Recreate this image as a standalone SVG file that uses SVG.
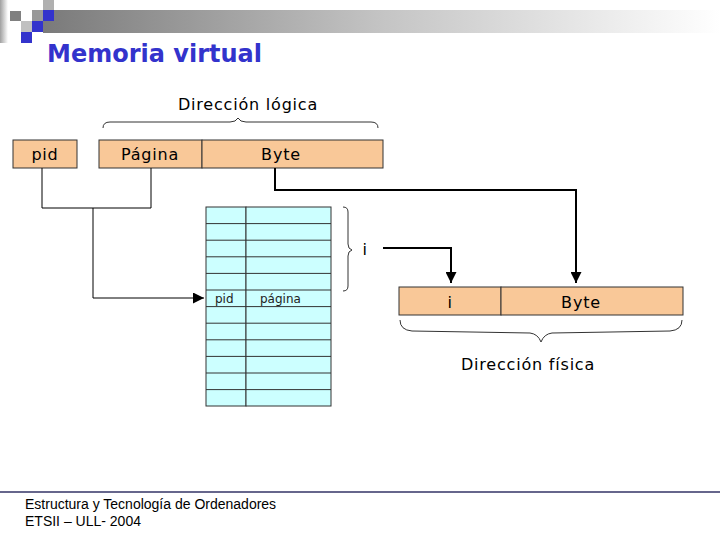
<svg xmlns="http://www.w3.org/2000/svg" width="720" height="540" viewBox="0 0 720 540">
<defs>
<linearGradient id="bar" x1="0" y1="0" x2="1" y2="0">
<stop offset="0" stop-color="#7a7a7a"/>
<stop offset="0.5" stop-color="#c4c4c4"/>
<stop offset="1" stop-color="#ffffff"/>
</linearGradient>
<linearGradient id="side" x1="0" y1="0" x2="1" y2="0">
<stop offset="0" stop-color="#a0a0a0"/>
<stop offset="1" stop-color="#ffffff"/>
</linearGradient>
<marker id="ah" markerWidth="11" markerHeight="11" refX="11" refY="5.5" orient="auto" markerUnits="userSpaceOnUse">
<path d="M0,0 L11,5.5 L0,11 Z" fill="#000"/>
</marker>
</defs>
<style>
.box{fill:#f9c898;stroke:#333;stroke-width:1}
.cell{fill:#ccffff;stroke:#333;stroke-width:1}
.lbl{font-family:"DejaVu Sans",Verdana,sans-serif;font-size:16px;letter-spacing:0.8px;fill:#000}
.small{font-family:"DejaVu Sans",Verdana,sans-serif;font-size:12px;fill:#222}
.wire{fill:none;stroke:#000;stroke-width:1}
.bold{fill:none;stroke:#000;stroke-width:2}
.brace{fill:none;stroke:#333;stroke-width:1}
.foot{font-family:"Liberation Sans",Arial,sans-serif;font-size:14px;fill:#000}
</style>
<rect width="720" height="540" fill="#fff"/>
<!-- header decoration -->
<rect x="43" y="10" width="677" height="23" fill="url(#bar)"/>
<rect x="0" y="0" width="8" height="43" fill="url(#side)"/>
<rect x="10" y="11" width="11" height="10" fill="#808080"/>
<rect x="43" y="0" width="11" height="10" fill="#b0b0b0"/>
<rect x="32" y="10" width="11" height="11" fill="#999"/>
<rect x="21" y="21" width="11" height="11" fill="#c0c0c0"/>
<rect x="43" y="10" width="11" height="11" fill="#3333cc"/>
<rect x="32" y="21" width="11" height="11" fill="#3333cc"/>
<rect x="21" y="32" width="11" height="11" fill="#3333cc"/>
<text x="47" y="62" font-family="'DejaVu Sans',Verdana,sans-serif" font-size="24" font-weight="bold" fill="#3333cc">Memoria virtual</text>

<!-- logical address -->
<g id="logical-label">
<path class="brace" d="M103,128 Q103,122 110,122 L230,122 Q236,122 238,118 Q240,122 246,122 L371,122 Q378,122 378,128"/>
<text class="lbl" x="248" y="110" text-anchor="middle">Dirección lógica</text>
</g>
<g id="pid">
<rect class="box" x="13" y="140" width="64" height="28"/>
<text class="lbl" x="45" y="160" text-anchor="middle">pid</text>
</g>
<g id="pagina">
<rect class="box" x="99" y="140" width="103" height="28"/>
<text class="lbl" x="150" y="160" text-anchor="middle">Página</text>
</g>
<g id="byte">
<rect class="box" x="202" y="140" width="181" height="28"/>
<text class="lbl" x="281" y="160" text-anchor="middle">Byte</text>
</g>

<!-- page table -->
<g id="table">
<rect class="cell" x="206" y="207" width="40" height="199"/>
<rect class="cell" x="246" y="207" width="85" height="199"/>
<g stroke="#333" stroke-width="1">
<line x1="206" y1="223.6" x2="331" y2="223.6"/>
<line x1="206" y1="240.2" x2="331" y2="240.2"/>
<line x1="206" y1="256.8" x2="331" y2="256.8"/>
<line x1="206" y1="273.4" x2="331" y2="273.4"/>
<line x1="206" y1="290" x2="331" y2="290"/>
<line x1="206" y1="306.6" x2="331" y2="306.6"/>
<line x1="206" y1="323.2" x2="331" y2="323.2"/>
<line x1="206" y1="339.8" x2="331" y2="339.8"/>
<line x1="206" y1="356.4" x2="331" y2="356.4"/>
<line x1="206" y1="373" x2="331" y2="373"/>
<line x1="206" y1="389.6" x2="331" y2="389.6"/>
</g>
<text class="small" x="215" y="303">pid</text>
<text class="small" x="260" y="303">página</text>
</g>
<g id="i-brace">
<path class="brace" d="M343,207 Q348,207 348,212 L348,244 Q348,249 352,250 Q348,251 348,256 L348,286 Q348,291 343,291"/>
<text class="lbl" x="365" y="255" text-anchor="middle">i</text>
</g>

<!-- physical address -->
<g id="phys-i">
<rect class="box" x="399" y="287" width="102" height="28"/>
<text class="lbl" x="450" y="308" text-anchor="middle">i</text>
</g>
<g id="phys-byte">
<rect class="box" x="501" y="287" width="182" height="28"/>
<text class="lbl" x="581" y="308" text-anchor="middle">Byte</text>
</g>
<g id="phys-label">
<path class="brace" d="M400,320 Q400,330 412,331 L530,333 Q538,334 541,342 Q544,334 552,333 L670,331 Q682,330 682,320"/>
<text class="lbl" x="528" y="370" text-anchor="middle">Dirección física</text>
</g>

<!-- connectors -->
<g id="connectors">
<path class="wire" d="M42,168 L42,208 L151,208 L151,168"/>
<path class="wire" d="M93,208 L93,298 L204,298" marker-end="url(#ah)"/>
<path class="bold" d="M275,168 L275,190 L576,190 L576,283" marker-end="url(#ah)"/>
<path class="bold" d="M383,248 L451,248 L451,283" marker-end="url(#ah)"/>
</g>

<!-- footer -->
<line x1="0" y1="492" x2="720" y2="492" stroke="#333366" stroke-width="1.5"/>
<text class="foot" x="25" y="509">Estructura y Tecnología de Ordenadores</text>
<text class="foot" x="25" y="526">ETSII – ULL- 2004</text>
</svg>
